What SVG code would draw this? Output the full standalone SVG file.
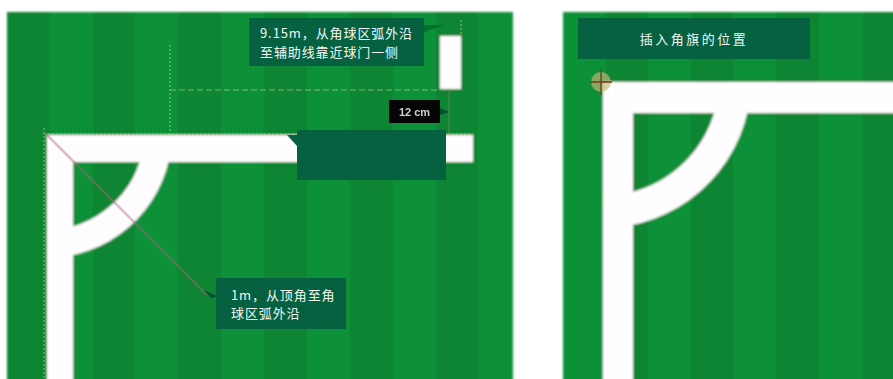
<svg xmlns="http://www.w3.org/2000/svg" width="893" height="379" viewBox="0 0 893 379">
<defs>
<filter id="soft" x="-5%" y="-5%" width="110%" height="110%"><feGaussianBlur stdDeviation="1"/></filter>
<filter id="fuzz" x="-5%" y="-20%" width="110%" height="140%"><feGaussianBlur stdDeviation="0.6"/></filter>
</defs>
<style>
.d{fill:#0b8533}.l{fill:#0d9138}
.w{fill:#fffdff}
.arc{fill:none;stroke:#fffdff}
.box{fill:#066140}
.dot{fill:none;stroke:#a9cf8f;stroke-width:1.5;stroke-dasharray:2 2;opacity:.55}
.dash{fill:none;stroke:#a9cf8f;stroke-width:1;stroke-dasharray:6 3;opacity:.7}
.lead{fill:none;stroke:#b0607a;stroke-width:2.500;opacity:.42}
.lab{font-family:"Noto Sans CJK SC","Noto Sans",sans-serif;font-size:13px;fill:#f2f7f3;letter-spacing:.9px}
</style>
<rect width="893" height="379" fill="#fff"/>
<g id="field-left" filter="url(#soft)">
<rect class="d" x="7" y="12" width="506" height="377"/>
<rect class="l" x="50" y="12" width="43" height="377"/>
<rect class="l" x="135" y="12" width="43" height="377"/>
<rect class="l" x="221" y="12" width="43" height="377"/>
<rect class="l" x="307" y="12" width="43" height="377"/>
<rect class="l" x="393" y="12" width="43" height="377"/>
<rect class="l" x="478" y="12" width="35" height="377"/>
<rect class="w" x="47" y="135" width="426" height="27"/>
<rect class="w" x="47" y="135" width="26" height="254"/>
<path class="arc" stroke-width="28" d="M157 148A112 112 0 0 1 47 244"/>
<rect class="w" x="440" y="36" width="21" height="53"/>
</g>
<g id="field-right" filter="url(#soft)">
<rect class="d" x="563" y="12" width="340" height="377"/>
<rect class="l" x="563" y="12" width="43" height="377"/>
<rect class="l" x="648" y="12" width="43" height="377"/>
<rect class="l" x="733" y="12" width="43" height="377"/>
<rect class="l" x="819" y="12" width="44" height="377"/>
<rect class="w" x="603" y="82" width="300" height="31"/>
<rect class="w" x="603" y="82" width="30" height="307"/>
<path class="arc" stroke-width="32" d="M734 97A133 133 0 0 1 603 212"/>
</g>
<g id="connectors" filter="url(#fuzz)">
<path class="dot" d="M44 128V379M44 134H473M170 45V135M461 20V36"/>
<path class="dash" d="M170 90H440"/>
<path class="lead" d="M47 135L207 295"/>
<path d="M205 291L216 296L212 298Z" fill="#04512f" stroke="#04512f"/>
<path d="M424 25L444 25L424 32Z" fill="#04702f"/>
<path d="M449 89V135" stroke="#8a8a60" stroke-width="1.500" opacity=".4" fill="none"/>
<path d="M440 108L449 112L440 115Z" fill="#04512f"/>
</g>
<g id="flag-marker" filter="url(#fuzz)">
<circle cx="601" cy="82" r="10" fill="#c9b47a" opacity=".65"/>
<path d="M601 69V95M590 82H612" stroke="#6b3f12" stroke-width="1.300" fill="none"/>
</g>
<g id="callout-distance">
<rect class="box" x="249" y="18" width="175" height="48"/>
<text class="lab" x="260" y="38">9.15m，从角球区弧外沿</text>
<text class="lab" x="260" y="57">至辅助线靠近球门一侧</text>
</g>
<g id="label-12cm">
<rect x="389" y="100" width="51" height="23" fill="#050505"/>
<text x="414.500" y="116" text-anchor="middle" font-family="Liberation Sans, sans-serif" font-size="11" font-weight="700" fill="#cfcfcf" filter="url(#fuzz)">12 cm</text>
</g>
<g id="callout-blank">
<path class="box" d="M287 135H297V130H446V180H297V146Z"/>
</g>
<g id="callout-1m">
<rect class="box" x="216" y="278" width="130" height="51"/>
<text class="lab" x="231" y="300">1m，从顶角至角</text>
<text class="lab" x="231" y="318">球区弧外沿</text>
</g>
<g id="callout-flag">
<rect class="box" x="578" y="18" width="232" height="41"/>
<text class="lab" x="694" y="44" text-anchor="middle" style="letter-spacing:2.500px">插入角旗的位置</text>
</g>
</svg>
